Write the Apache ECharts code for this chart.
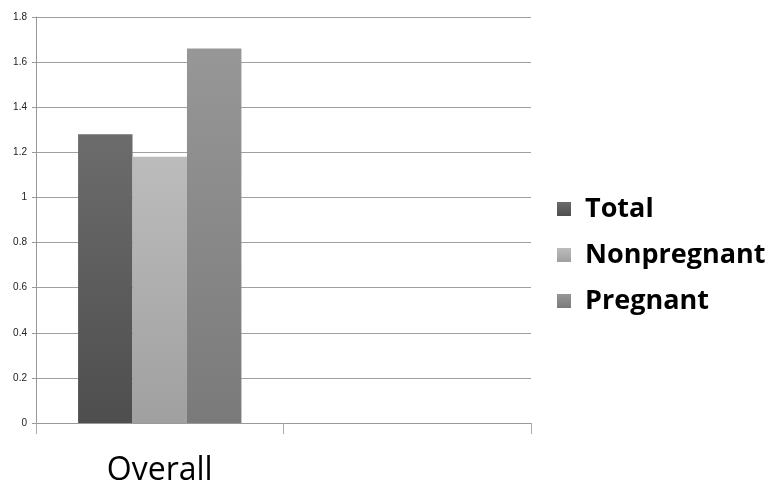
<!DOCTYPE html>
<html>
<head>
<meta charset="utf-8">
<script src="https://cdn.jsdelivr.net/npm/echarts@6/dist/echarts.min.js"></script>
<style>
  html, body { margin: 0; padding: 0; background: #fff; }
  #chart { width: 769px; height: 487px; }
</style>
</head>
<body>
<div id="chart"></div>
<script>
// Categories along the x axis (second slot is intentionally blank)
const categories = ['Overall', ''];

// Series values per category
const totalValues = [1.28, null];
const nonpregnantValues = [1.18, null];
const pregnantValues = [1.66, null];

// Y axis range
const yMin = 0;
const yMax = 1.8;
const yStep = 0.2;

function grad(top, bottom) {
  return new echarts.graphic.LinearGradient(0, 0, 0, 1, [
    { offset: 0, color: top },
    { offset: 1, color: bottom }
  ]);
}

const chart = echarts.init(document.getElementById('chart'), null, { renderer: 'canvas' });

chart.setOption({
  animation: false,
  backgroundColor: '#ffffff',
  grid: { left: 36, right: 238, top: 17, bottom: 62, containLabel: false },
  legend: {
    orient: 'vertical',
    left: 557,
    top: 193,
    padding: 0,
    icon: 'rect',
    itemWidth: 14,
    itemHeight: 14,
    itemGap: 14,
    textStyle: {
      fontFamily: 'Open Sans, Liberation Sans, sans-serif',
      fontSize: 27,
      fontWeight: 'bold',
      color: '#000',
      lineHeight: 32,
      padding: [0, 0, 0, 9]
    },
    data: ['Total', 'Nonpregnant', 'Pregnant']
  },
  xAxis: {
    type: 'category',
    data: categories,
    boundaryGap: true,
    axisLine: { lineStyle: { color: '#999', width: 1 } },
    axisTick: { show: true, length: 11, alignWithLabel: false, lineStyle: { color: '#aaa' } },
    axisLabel: {
      fontFamily: 'Open Sans, Liberation Sans, sans-serif',
      fontSize: 32,
      color: '#000',
      margin: 32
    },
    splitLine: { show: false }
  },
  yAxis: {
    type: 'value',
    min: yMin,
    max: yMax,
    interval: yStep,
    axisLine: { show: true, lineStyle: { color: '#999', width: 1 } },
    axisTick: { show: true, length: 4, lineStyle: { color: '#999' } },
    axisLabel: {
      fontFamily: 'Liberation Sans, sans-serif',
      fontSize: 10,
      color: '#222',
      margin: 9
    },
    splitLine: { show: true, lineStyle: { color: '#a0a0a0', width: 1 } }
  },
  series: [
    {
      name: 'Total',
      type: 'bar',
      data: totalValues,
      barGap: '0%',
      barCategoryGap: '34%',
      itemStyle: { color: grad('#6c6c6c', '#4e4e4e') }
    },
    {
      name: 'Nonpregnant',
      type: 'bar',
      data: nonpregnantValues,
      itemStyle: { color: grad('#bcbcbc', '#a0a0a0') }
    },
    {
      name: 'Pregnant',
      type: 'bar',
      data: pregnantValues,
      itemStyle: { color: grad('#979797', '#7a7a7a') }
    }
  ]
});
</script>
</body>
</html>
